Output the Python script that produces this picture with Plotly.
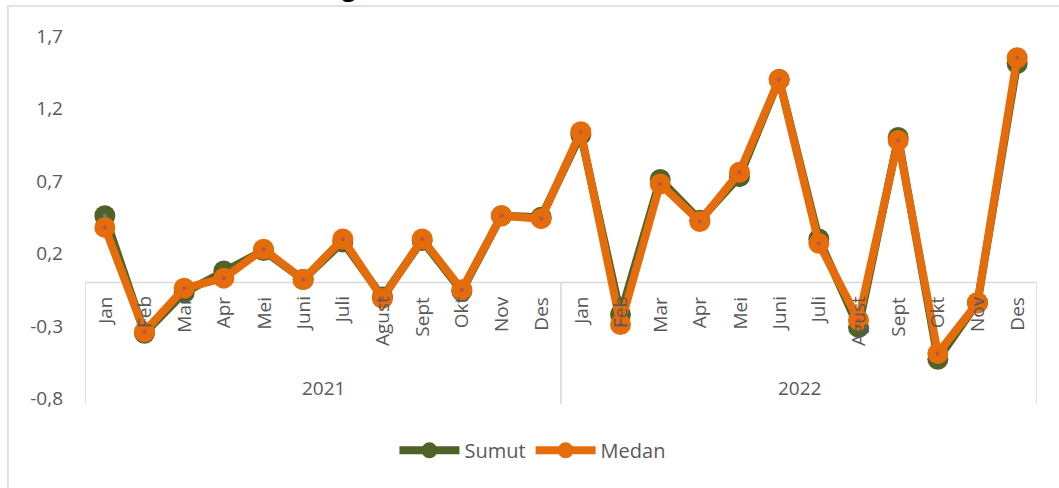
import plotly.graph_objects as go

months = ["Jan", "Feb", "Mar", "Apr", "Mei", "Juni", "Juli", "Agust", "Sept", "Okt", "Nov", "Des"]
years = ["2021", "2022"]

sumut_2021 = [0.46, -0.35, -0.07, 0.08, 0.22, 0.02, 0.28, -0.10, 0.29, -0.06, 0.46, 0.45]
sumut_2022 = [1.02, -0.22, 0.71, 0.43, 0.73, 1.40, 0.30, -0.31, 1.00, -0.53, -0.14, 1.51]
medan_2021 = [0.38, -0.34, -0.04, 0.03, 0.23, 0.02, 0.30, -0.11, 0.30, -0.05, 0.46, 0.44]
medan_2022 = [1.04, -0.29, 0.68, 0.42, 0.76, 1.40, 0.27, -0.26, 0.98, -0.49, -0.14, 1.55]

y_ticks = [-0.8, -0.3, 0.2, 0.7, 1.2, 1.7]
title_text = "Perbandingan Inflasi Kota Medan dan Provinsi Sumut"

cats = [f"{m} {y}" for y in years for m in months]
sumut = sumut_2021 + sumut_2022
medan = medan_2021 + medan_2022

GREEN = "#4F6228"
ORANGE = "#E46C0A"
GREY = "#595959"
FONT = "Open Sans"
FS = 19

fig = go.Figure()

fig.add_trace(go.Scatter(
    x=cats, y=sumut, name="Sumut", mode="lines+markers",
    line=dict(color=GREEN, width=8),
    marker=dict(color=GREEN, size=21),
    legendgroup="s",
))
fig.add_trace(go.Scatter(
    x=cats, y=sumut, mode="markers", showlegend=False, hoverinfo="skip",
    marker=dict(color="#4F81BD", size=4), legendgroup="s",
))
fig.add_trace(go.Scatter(
    x=cats, y=medan, name="Medan", mode="lines+markers",
    line=dict(color=ORANGE, width=8),
    marker=dict(color=ORANGE, size=21),
    legendgroup="m",
))
fig.add_trace(go.Scatter(
    x=cats, y=medan, mode="markers", showlegend=False, hoverinfo="skip",
    marker=dict(color="#C0504D", size=4), legendgroup="m",
))

annotations = []
for c, lab in zip(cats, months * len(years)):
    annotations.append(dict(
        x=c, y=0, xref="x", yref="y", text=lab, textangle=-90,
        showarrow=False, yanchor="top", xanchor="center", yshift=-12,
        font=dict(family=FONT, size=FS, color=GREY),
    ))
for i, yr in enumerate(years):
    mid = i * len(months) + (len(months) - 1) / 2
    annotations.append(dict(
        x=mid, y=-0.728, xref="x", yref="y", text=yr, showarrow=False,
        font=dict(family=FONT, size=FS, color=GREY),
    ))
annotations.append(dict(
    x=0.475, y=1.084, xref="paper", yref="paper", text=f"<b>{title_text}</b>",
    showarrow=False, yanchor="bottom", xanchor="center",
    font=dict(family=FONT, size=24, color="#000000"),
))

shapes = []
# category axis line at y=0
shapes.append(dict(type="line", xref="x", yref="y", x0=-0.5, x1=len(cats) - 0.5,
                   y0=0, y1=0, line=dict(color="#D9D9D9", width=1.5), layer="below"))
# year dividers
for k in range(len(years) + 1):
    xv = k * len(months) - 0.5
    shapes.append(dict(type="line", xref="x", yref="y", x0=xv, x1=xv,
                       y0=0, y1=-0.84, line=dict(color="#D9D9D9", width=1.5), layer="below"))
# outer chart border
shapes.append(dict(type="rect", xref="paper", yref="paper", x0=-0.0809, x1=1.04,
                   y0=-0.3, y1=1.0813, line=dict(color="#D9D9D9", width=1.5), layer="below"))

fig.update_layout(
    width=1059, height=488,
    margin=dict(l=85, r=22, t=36, b=83, autoexpand=False),
    paper_bgcolor="white", plot_bgcolor="white",
    separators=",.",
    showlegend=True,
    legend=dict(orientation="h", x=0.47, xanchor="center", y=-0.07, yanchor="top",
                font=dict(family=FONT, size=20, color=GREY), itemwidth=60,
                traceorder="normal"),
    annotations=annotations, shapes=shapes,
    xaxis=dict(type="category", categoryorder="array", categoryarray=cats,
               range=[-0.5, len(cats) - 0.5], showticklabels=False, showgrid=False,
               zeroline=False, showline=False, ticks=""),
    yaxis=dict(range=[-0.845, 1.7], tickvals=y_ticks, ticktext=[f"{v:.1f}".replace(".", ",") for v in y_ticks],
               showgrid=False, zeroline=False, showline=False, ticks="",
               ticklabelstandoff=21,
               tickfont=dict(family=FONT, size=FS, color=GREY)),
)

fig.write_html(
    "out.html",
    config={"displayModeBar": False},
    post_script="document.body.style.margin='0';document.body.style.overflow='hidden';",
)
